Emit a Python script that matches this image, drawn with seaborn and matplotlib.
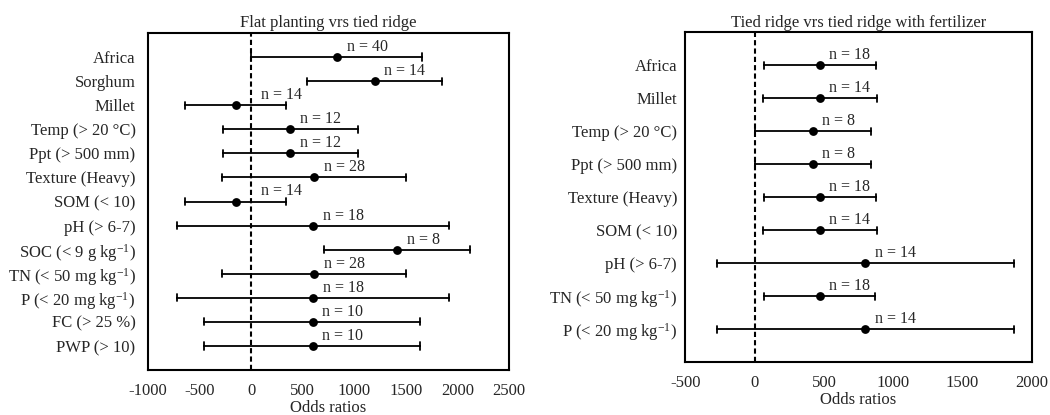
import numpy as np
import pandas as pd
import matplotlib
matplotlib.use("Agg")
import matplotlib.pyplot as plt
import seaborn as sns

# left panel: flat planting vs tied ridge
left_labels = ["Africa", "Sorghum", "Millet", "Temp (> 20 °C)", "Ppt (> 500 mm)",
               "Texture (Heavy)", "SOM (< 10)", "pH (> 6-7)", "SOC (< 9 g kg$^{-1}$)",
               "TN (< 50 mg kg$^{-1}$)", "P (< 20 mg kg$^{-1}$)", "FC (> 25 %)", "PWP (> 10)"]
left_low = [0, 543, -640, -275, -275, -284, -640, -715, 705, -284, -715, -456, -456]
left_mid = [831, 1196, -152, 381, 381, 608, -152, 598, 1413, 608, 598, 595, 595]
left_high = [1655, 1850, 336, 1035, 1035, 1503, 336, 1920, 2124, 1503, 1920, 1639, 1639]
left_n = [40, 14, 14, 12, 12, 28, 14, 18, 8, 28, 18, 10, 10]

# right panel: tied ridge vs tied ridge with fertilizer
right_labels = ["Africa", "Millet", "Temp (> 20 °C)", "Ppt (> 500 mm)", "Texture (Heavy)",
                "SOM (< 10)", "pH (> 6-7)", "TN (< 50 mg kg$^{-1}$)", "P (< 20 mg kg$^{-1}$)"]
right_low = [66, 58, 0, 0, 66, 62, -269, 66, -269]
right_mid = [470, 470, 419, 419, 470, 470, 799, 470, 799]
right_high = [874, 883, 842, 842, 874, 883, 1869, 870, 1869]
right_n = [18, 14, 8, 8, 18, 14, 14, 18, 14]

sns.set_style("white")
plt.rcParams['font.family'] = ['Liberation Serif', 'DejaVu Serif']
plt.rcParams['mathtext.default'] = 'regular'
plt.rcParams['axes.unicode_minus'] = False
plt.rcParams['font.size'] = 12


def long_df(labels, low, mid, high):
    rows = []
    for lab, a, b, c in zip(labels, low, mid, high):
        for v in (a, b, c):
            rows.append({'label': lab, 'value': v})
    return pd.DataFrame(rows)


def forest(ax, labels, low, mid, high, n, title, xlim, xticks, capsize, ypad):
    df = long_df(labels, low, mid, high)
    # median of (low, mid, high) is the point, the 100% interval is the whisker
    sns.pointplot(data=df, x='value', y='label', order=labels, orient='h',
                  estimator='median', errorbar=('pi', 100), color='black',
                  linestyle='none', markersize=4.3, capsize=capsize,
                  err_kws={'linewidth': 1.3}, ax=ax)
    ax.axvline(0, color='black', lw=1.5, ls=(0, (2.5, 1.5)), zorder=0)
    for i, (m, k) in enumerate(zip(mid, n)):
        ax.annotate(f"n = {k}", xy=(max(m, 0), i), xytext=(7, 1.5),
                    textcoords='offset points', ha='left', va='bottom', fontsize=11.5)
    ax.set_xlim(*xlim)
    ax.set_xticks(xticks)
    ax.set_ylim(len(labels), -1)
    ax.set_ylabel('')
    ax.set_xlabel('Odds ratios', labelpad=1)
    ax.set_title(title, fontsize=12, pad=4)
    ax.tick_params(axis='x', length=0, pad=9)
    ax.tick_params(axis='y', length=0, pad=ypad)
    for s in ax.spines.values():
        s.set_visible(True)
        s.set_color('black')
        s.set_linewidth(1.5)


fig = plt.figure(figsize=(10.5, 4.15), dpi=100)
ax1 = fig.add_axes([0.1410, 0.1084, 0.3438, 0.8120])
ax2 = fig.add_axes([0.6527, 0.1270, 0.3299, 0.7952])

forest(ax1, left_labels, left_low, left_mid, left_high, left_n,
       "Flat planting vrs tied ridge", (-1000, 2500),
       [-1000, -500, 0, 500, 1000, 1500, 2000, 2500], 0.3, 9)
forest(ax2, right_labels, right_low, right_mid, right_high, right_n,
       "Tied ridge vrs tied ridge with fertilizer", (-500, 2000),
       [-500, 0, 500, 1000, 1500, 2000], 0.22, 6)

fig.savefig('out.png', dpi=100)
